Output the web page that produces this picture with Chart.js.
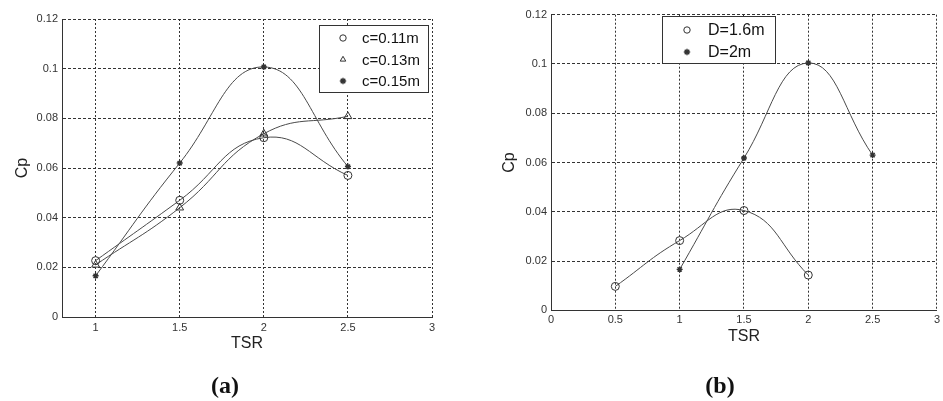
<!DOCTYPE html>
<html>
<head>
<meta charset="utf-8">
<script src="https://cdn.jsdelivr.net/npm/chart.js@4/dist/chart.umd.min.js"></script>
<style>
  html, body { margin: 0; padding: 0; background: #fff; }
  #wrap { position: relative; width: 943px; height: 401px; background: #fff; overflow: hidden; }
  .panel { position: absolute; top: 0; }
  .caption {
    position: absolute; top: 371px; width: 80px; margin-left: -40px; text-align: center;
    font-family: 'Liberation Serif', 'Times New Roman', serif; font-weight: bold;
    font-size: 24px; line-height: 28px; color: #111;
  }
</style>
</head>
<body>
<div id="wrap">
  <div class="panel" style="left:0;width:470px;height:401px"><canvas id="chartA" width="470" height="401"></canvas></div>
  <div class="panel" style="left:470px;width:473px;height:401px"><canvas id="chartB" width="473" height="401"></canvas></div>
  <div class="caption" style="left:225px">(a)</div>
  <div class="caption" style="left:720px">(b)</div>
</div>
<script>
// Panel (a): power coefficient vs tip speed ratio for three chord lengths
const tsrA = [1, 1.5, 2, 2.5];
const cpC011 = [0.0227, 0.047, 0.0722, 0.057];
const cpC013 = [0.021, 0.044, 0.0738, 0.0808];
const cpC015 = [0.0166, 0.062, 0.1007, 0.0606];
const labelsA = ['c=0.11m', 'c=0.13m', 'c=0.15m'];

// Panel (b): power coefficient vs tip speed ratio for two rotor diameters
const tsrD16 = [0.5, 1, 1.5, 2];
const cpD16 = [0.0097, 0.0283, 0.0405, 0.0143];
const tsrD20 = [1, 1.5, 2, 2.5];
const cpD20 = [0.0166, 0.0618, 0.1004, 0.063];
const labelsB = ['D=1.6m', 'D=2m'];

// Axis ticks
const xTicksA = [1, 1.5, 2, 2.5, 3];
const xTicksB = [0, 0.5, 1, 1.5, 2, 2.5, 3];
const yTicks = [0, 0.02, 0.04, 0.06, 0.08, 0.1, 0.12];

const toXY = (xs, ys) => xs.map((x, i) => ({ x: x, y: ys[i] }));
const fmt = v => String(+(+v).toFixed(3));

const LINE = '#4a4a4a';
const MARK = '#333';
const SANS = "'Liberation Sans', Arial, sans-serif";

// Boxed legend drawn inside the plot area
const boxLegend = {
  id: 'boxLegend',
  afterDatasetsDraw(chart, args, o) {
    const ctx = chart.ctx;
    ctx.save();
    ctx.fillStyle = '#fff';
    ctx.fillRect(o.left, o.top, o.width, o.height);
    ctx.strokeStyle = '#333';
    ctx.lineWidth = 1;
    ctx.strokeRect(o.left + 0.5, o.top + 0.5, o.width, o.height);
    ctx.font = o.fontSize + 'px ' + SANS;
    ctx.textBaseline = 'middle';
    ctx.textAlign = 'left';
    chart.data.datasets.forEach((ds, i) => {
      const y = o.top + o.firstRow + i * o.rowGap;
      ctx.strokeStyle = MARK;
      ctx.fillStyle = '#fff';
      ctx.lineWidth = ds.pointBorderWidth;
      Chart.helpers.drawPoint(ctx, {
        pointStyle: ds.pointStyle, radius: o.markerRadius, rotation: 0, borderWidth: ds.pointBorderWidth
      }, o.left + o.markerX, y);
      ctx.fillStyle = '#111';
      ctx.fillText(ds.label, o.left + o.textX, y + 1);
    });
    ctx.restore();
  }
};

function series(label, xs, ys, style, radius, markWidth) {
  return {
    label: label,
    data: toXY(xs, ys),
    borderColor: LINE,
    borderWidth: 1,
    tension: 0.45,
    pointStyle: style,
    pointRadius: radius,
    pointBorderColor: MARK,
    pointBorderWidth: markWidth || 1,
    pointBackgroundColor: 'rgba(0,0,0,0)',
    fill: false
  };
}

function makeOptions(cfg) {
  return {
    responsive: false,
    animation: false,
    events: [],
    layout: { padding: cfg.padding },
    scales: {
      x: {
        type: 'linear',
        min: cfg.xMin, max: 3,
        afterBuildTicks: s => { s.ticks = cfg.xTicks.map(v => ({ value: v })); },
        afterFit: s => { s.height = 40; },
        ticks: { callback: fmt, padding: cfg.xTickPad, color: '#333', font: { family: SANS, size: 11 }, maxRotation: 0 },
        grid: { color: '#333', lineWidth: 1, drawTicks: false },
        border: { display: true, color: '#333', width: 1, dash: [2, 2] },
        title: { display: true, text: 'TSR', color: '#222', font: { family: SANS, size: 16 }, padding: { top: 0, bottom: 4 } }
      },
      y: {
        type: 'linear',
        min: 0, max: 0.12,
        afterBuildTicks: s => { s.ticks = yTicks.map(v => ({ value: v })); },
        afterFit: s => { s.width = cfg.yWidth; },
        ticks: { callback: fmt, padding: 4, color: '#333', font: { family: SANS, size: 11 } },
        grid: { color: '#333', lineWidth: 1, drawTicks: false },
        border: { display: true, color: '#333', width: 1, dash: [3, 2] },
        title: { display: true, text: 'Cp', color: '#222', font: { family: SANS, size: 16 }, padding: { top: cfg.yTitlePad, bottom: 0 } }
      }
    },
    plugins: {
      legend: { display: false },
      tooltip: { enabled: false },
      title: { display: false },
      boxLegend: cfg.legend
    }
  };
}

new Chart(document.getElementById('chartA'), {
  type: 'line',
  data: {
    datasets: [
      series(labelsA[0], tsrA, cpC011, 'circle', 4),
      series(labelsA[1], tsrA, cpC013, 'triangle', 4.5),
      series(labelsA[2], tsrA, cpC015, 'star', 3, 1.4)
    ]
  },
  options: makeOptions({
    padding: { left: 0, right: 38, top: 19, bottom: 44 },
    xMin: 0.8, xTicks: xTicksA, xTickPad: 4, yWidth: 62, yTitlePad: 13,
    legend: { left: 319, top: 25, width: 109, height: 67, firstRow: 13, rowGap: 21.5, markerX: 24, textX: 43, fontSize: 15, markerRadius: 3.2 }
  }),
  plugins: [boxLegend]
});

new Chart(document.getElementById('chartB'), {
  type: 'line',
  data: {
    datasets: [
      series(labelsB[0], tsrD16, cpD16, 'circle', 4),
      series(labelsB[1], tsrD20, cpD20, 'star', 3, 1.4)
    ]
  },
  options: makeOptions({
    padding: { left: 0, right: 4.7, top: 14.7, bottom: 50.7 },
    xMin: 0, xTicks: xTicksB, xTickPad: 3, yWidth: 81, yTitlePad: 30,
    legend: { left: 192, top: 16, width: 113, height: 47, firstRow: 14, rowGap: 22, markerX: 25, textX: 46, fontSize: 16, markerRadius: 3.2 }
  }),
  plugins: [boxLegend]
});
</script>
</body>
</html>
